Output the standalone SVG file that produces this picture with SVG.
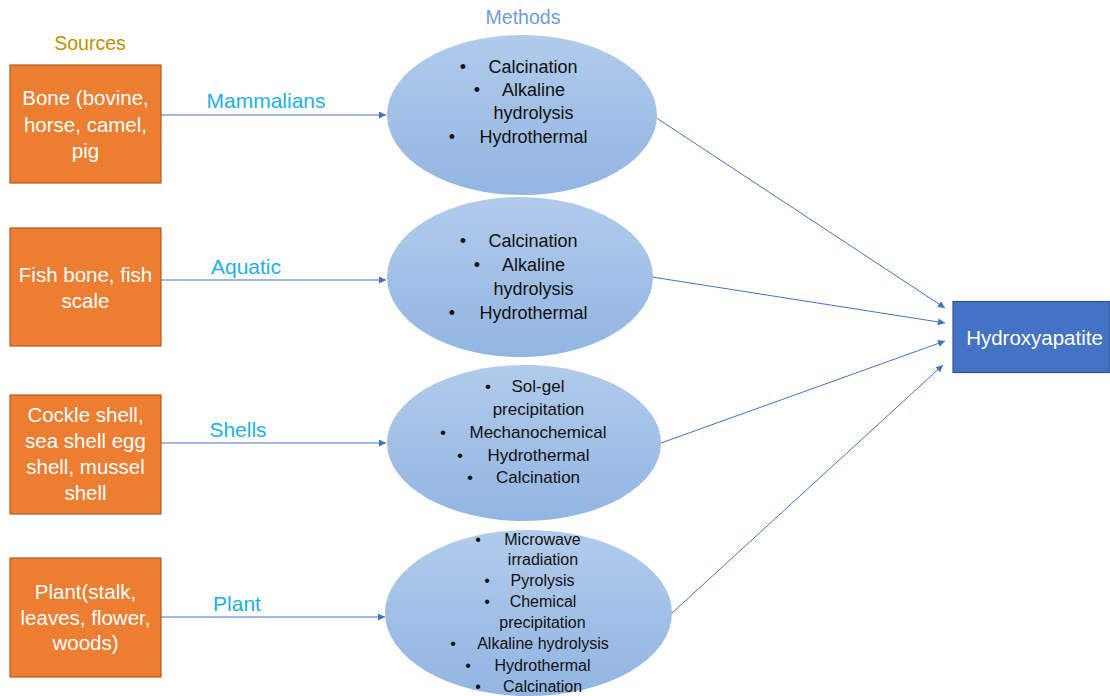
<svg xmlns="http://www.w3.org/2000/svg" width="1110" height="696" viewBox="0 0 1110 696">
<style>
.src{fill:#ED7D31;stroke:#AE5A21;stroke-width:1.2}
.srct{font-family:"Liberation Sans",Arial,sans-serif;font-size:20.5px;fill:#fff;text-anchor:middle}
.ell{fill:url(#eg);stroke:none}
.mt{font-family:"Liberation Sans",Arial,sans-serif;fill:#111;text-anchor:middle}
.lbl{font-family:"Liberation Sans",Arial,sans-serif;font-size:21px;fill:#1DB0E6;text-anchor:middle}
.con{stroke:#4472C4;stroke-width:1;fill:none;marker-end:url(#ah)}
.hdr{font-family:"Liberation Sans",Arial,sans-serif;font-size:19.5px;text-anchor:middle}
</style>
<defs>
<linearGradient id="eg" x1="0" y1="0" x2="0" y2="1">
<stop offset="0" stop-color="#B1CBEB"/>
<stop offset="1" stop-color="#92B5E2"/>
</linearGradient>
<marker id="ah" viewBox="0 0 10 10" refX="10" refY="5" markerWidth="9" markerHeight="7" markerUnits="userSpaceOnUse" orient="auto">
<path d="M0,0 L10,5 L0,10 z" fill="#4472C4"/>
</marker>
</defs>
<rect width="1110" height="696" fill="#fff"/>
<text class="hdr" x="90" y="50" fill="#BF9000">Sources</text>
<text class="hdr" x="523" y="24" fill="#6D9DDB">Methods</text>

<g id="connectors">
<line class="con" x1="161" y1="115" x2="386" y2="115"/>
<line class="con" x1="161" y1="280" x2="386" y2="280"/>
<line class="con" x1="161" y1="443" x2="386" y2="443"/>
<line class="con" x1="161" y1="617" x2="385" y2="617"/>
<line class="con" x1="655" y1="117" x2="945" y2="308"/>
<line class="con" x1="652" y1="277" x2="945" y2="323"/>
<line class="con" x1="661" y1="443" x2="945" y2="341"/>
<line class="con" x1="672" y1="613" x2="943" y2="365"/>
<text class="lbl" x="266" y="108">Mammalians</text>
<text class="lbl" x="246" y="274">Aquatic</text>
<text class="lbl" x="238" y="437">Shells</text>
<text class="lbl" x="237" y="611">Plant</text>
</g>

<g id="src1">
<rect class="src" x="10" y="65" width="151" height="118"/>
<text class="srct" x="85.5" y="105">Bone (bovine,</text>
<text class="srct" x="85.5" y="132">horse, camel,</text>
<text class="srct" x="85.5" y="158">pig</text>
</g>
<g id="src2">
<rect class="src" x="10" y="228" width="151" height="118"/>
<text class="srct" x="85.5" y="282">Fish bone, fish</text>
<text class="srct" x="85.5" y="308">scale</text>
</g>
<g id="src3">
<rect class="src" x="10" y="395" width="151" height="119"/>
<text class="srct" x="85.5" y="422">Cockle shell,</text>
<text class="srct" x="85.5" y="448">sea shell egg</text>
<text class="srct" x="85.5" y="474">shell, mussel</text>
<text class="srct" x="85.5" y="500">shell</text>
</g>
<g id="src4">
<rect class="src" x="10" y="558" width="151" height="119"/>
<text class="srct" x="85.5" y="599">Plant(stalk,</text>
<text class="srct" x="85.5" y="625">leaves, flower,</text>
<text class="srct" x="85.5" y="650">woods)</text>
</g>

<g id="m1" font-size="18px">
<ellipse class="ell" cx="522" cy="115" rx="135" ry="80"/>
<text class="mt" x="463" y="73">•</text><text class="mt" x="533" y="73">Calcination</text>
<text class="mt" x="477" y="96">•</text><text class="mt" x="533.5" y="96">Alkaline</text>
<text class="mt" x="533.5" y="119">hydrolysis</text>
<text class="mt" x="452" y="143">•</text><text class="mt" x="533.5" y="143">Hydrothermal</text>
</g>
<g id="m2" font-size="18px">
<ellipse class="ell" cx="520" cy="277" rx="133" ry="80"/>
<text class="mt" x="463" y="247">•</text><text class="mt" x="533" y="247">Calcination</text>
<text class="mt" x="477" y="271">•</text><text class="mt" x="533.5" y="271">Alkaline</text>
<text class="mt" x="533.5" y="295">hydrolysis</text>
<text class="mt" x="452" y="319">•</text><text class="mt" x="533.5" y="319">Hydrothermal</text>
</g>
<g id="m3" font-size="17px">
<ellipse class="ell" cx="524" cy="443" rx="137" ry="78"/>
<text class="mt" x="488" y="392">•</text><text class="mt" x="538" y="392">Sol-gel</text>
<text class="mt" x="538.5" y="415">precipitation</text>
<text class="mt" x="443" y="438">•</text><text class="mt" x="538" y="438">Mechanochemical</text>
<text class="mt" x="460" y="461">•</text><text class="mt" x="538.5" y="461">Hydrothermal</text>
<text class="mt" x="470" y="483">•</text><text class="mt" x="538" y="483">Calcination</text>
</g>
<g id="m4" font-size="16px">
<ellipse class="ell" cx="528.5" cy="613" rx="143.5" ry="83"/>
<text class="mt" x="478" y="545">•</text><text class="mt" x="542.5" y="545">Microwave</text>
<text class="mt" x="543" y="565">irradiation</text>
<text class="mt" x="487" y="586">•</text><text class="mt" x="542.5" y="586">Pyrolysis</text>
<text class="mt" x="487" y="607">•</text><text class="mt" x="543" y="607">Chemical</text>
<text class="mt" x="542.5" y="628">precipitation</text>
<text class="mt" x="453" y="649">•</text><text class="mt" x="543" y="649">Alkaline hydrolysis</text>
<text class="mt" x="468" y="671">•</text><text class="mt" x="542.5" y="671">Hydrothermal</text>
<text class="mt" x="478" y="692">•</text><text class="mt" x="542.5" y="692">Calcination</text>
</g>

<g id="hydroxyapatite">
<rect x="953" y="301.5" width="157" height="71" fill="#4472C4" stroke="#2F528F" stroke-width="1.2"/>
<text x="1034.5" y="345" font-family="'Liberation Sans',Arial,sans-serif" font-size="20.5px" fill="#fff" text-anchor="middle">Hydroxyapatite</text>
</g>
</svg>
